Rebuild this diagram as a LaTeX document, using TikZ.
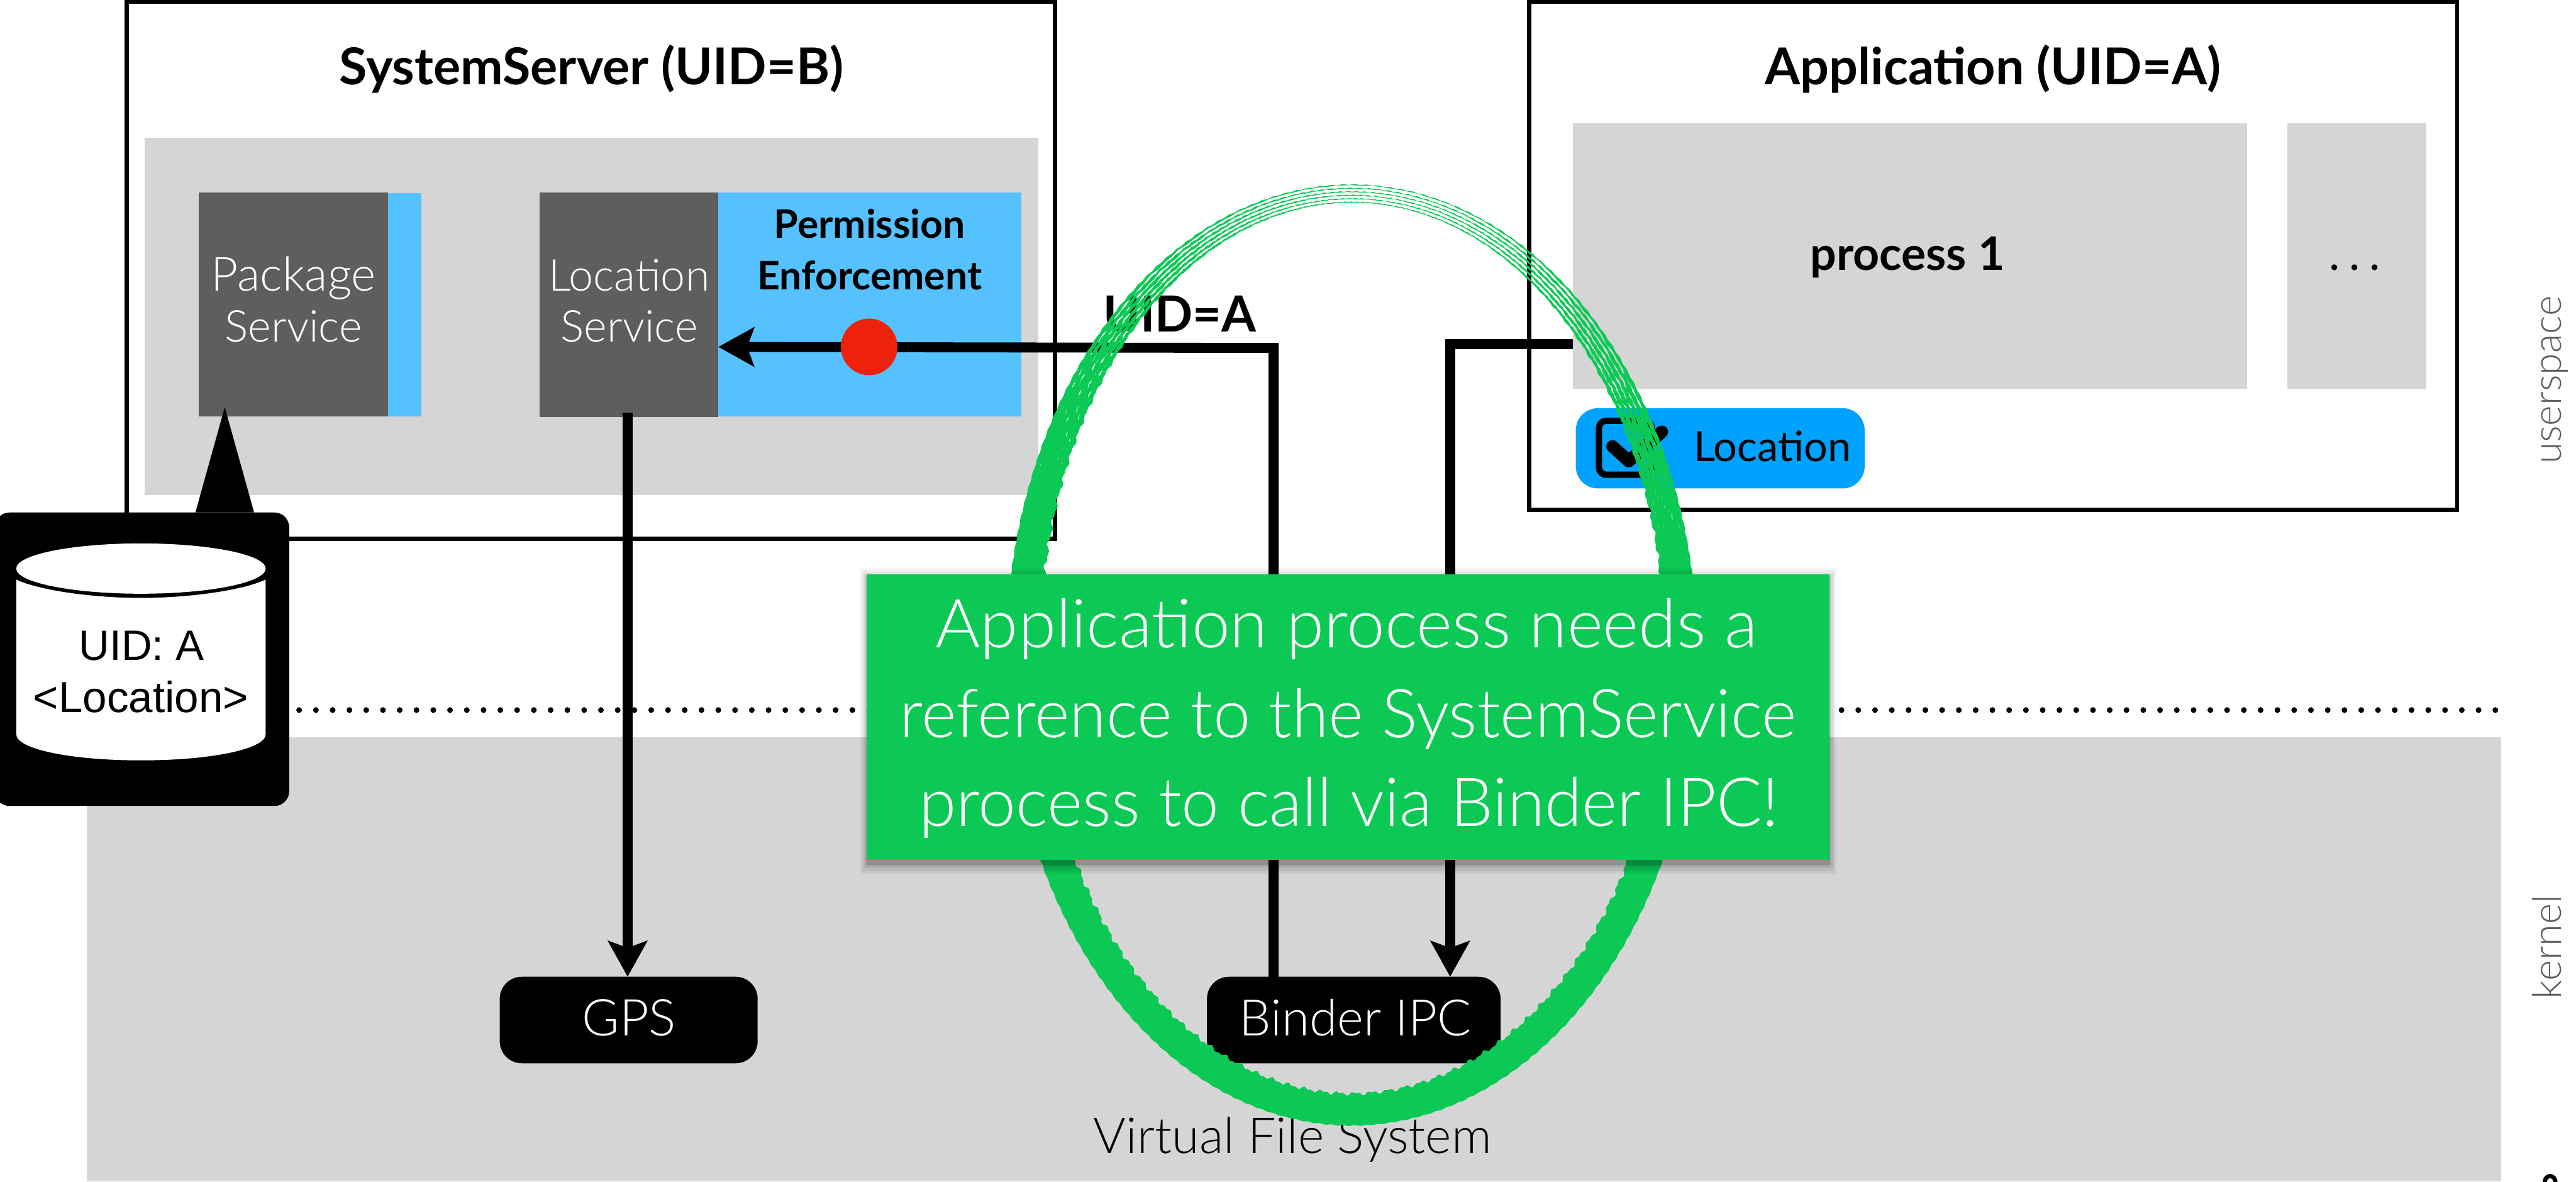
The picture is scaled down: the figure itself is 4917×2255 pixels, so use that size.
\documentclass[tikz,border=0pt]{standalone}
\usepackage{fontspec}
\usetikzlibrary{arrows.meta}
\setmainfont{Lato}
\newfontfamily\lightf{Lato Light}
\newfontfamily\regf{Lato}
\newfontfamily\boldf{Lato}[UprightFont=*-Bold,BoldFont=*-Bold]
\newfontfamily\helv{Liberation Sans}
\definecolor{graybg}{HTML}{D5D5D5}
\definecolor{darkg}{HTML}{5E5E5E}
\definecolor{skyb}{HTML}{56C1FF}
\definecolor{chipb}{HTML}{00A2FF}
\definecolor{calloutg}{HTML}{0CC955}
\definecolor{redd}{HTML}{EE220C}
% font size in reference pixels
\newcommand{\pxf}[1]{\fontsize{\the\dimexpr #1pt*2845/10000\relax}{\the\dimexpr #1pt*3415/10000\relax}\selectfont}
\tikzset{
  plainrect/.style={inner sep=0pt,outer sep=0pt},
  outerbox/.style={draw=black,line width=0.08cm,fill=white},
  flow/.style={draw=black,line width=0.19cm,line join=miter},
  flowtip/.style={-{Stealth[length=0.68cm,width=0.74cm,inset=0.13cm]}},
  lab/.style={inner sep=0pt,outer sep=0pt,anchor=base},
  pill/.style={fill=black,rounded corners=0.42cm,inner sep=0pt,outer sep=0pt},
  declare function={
    hf(\t,\n)=sin(10*mod(mod((\t)/10,36)*(\n),36));
    wid(\t,\p,\f)=(1.0+9*min(1,1.1*(1-cos(\t-85))))*(1.6+0.25*hf(\t+\p,\f)+0.2*hf(\t+2*\p,2*\f+7));
    ax(\t,\k)=660-\k*48;
    by(\t,\k)=898-\k*(39-6*sin(\t));
    jit(\t,\p,\f)=0.8*hf(\t+\p,3*\f);
  },
}
\begin{document}
\begin{tikzpicture}[x=0.01cm,y=-0.01cm]
\useasboundingbox (0,0) rectangle (4917,2255);
% kernel band
\fill[graybg] (166,1407) rectangle (4774,2255);
% dotted line
\foreach \i in {0,...,131}{\fill[black] ({571+32*\i},1355) circle (5.5);}
% outer boxes
\draw[outerbox] (242,3) rectangle (2014,1028);
\draw[outerbox] (2919,3) rectangle (4690,973);
\node[lab] (sstitle) at (1129,161) {\boldf\pxf{97}SystemServer (UID=B)};
\node[lab] (apptitle) at (3804,161) {\boldf\pxf{97}Application (UID=A)};
\fill[graybg] (276,263) rectangle (1982,945);
% Package
\fill[skyb] (741,368) rectangle (804,795);
\node[plainrect,fill=darkg,minimum width=3.62cm,minimum height=4.27cm] (pkg) at (560,581.5) {};
\node[lab,white] (pkgl) at (560,555) {\lightf\pxf{90}Package};
\node[lab,white] (pkgs) at (560,653) {\lightf\pxf{84}Service};
% Location
\node[plainrect,fill=skyb,minimum width=5.78cm,minimum height=4.27cm] (perm) at (1660,581.5) {};
\node[plainrect,fill=darkg,minimum width=3.41cm,minimum height=4.28cm] (loc) at (1200.5,582) {};
\node[lab,white] (locl) at (1201,555) {\lightf\pxf{84}Location};
\node[lab,white] (locs) at (1201,653) {\lightf\pxf{84}Service};
\node[lab] (perm1) at (1660,454) {\boldf\pxf{75}Permission};
\node[lab] (perm2) at (1660,553) {\boldf\pxf{75}Enforcement};
% Application interior
\node[plainrect,fill=graybg,minimum width=12.86cm,minimum height=5.07cm] (proc) at (3646,488.5) {};
\fill[graybg] (4366,235) rectangle (4631,742);
\node[lab] (procl) at (3641,516) {\boldf\pxf{88}process 1};
\node[lab] (dots) at (4495,516) {\regf\pxf{88}.\kern 0.2em.\kern 0.2em.};
\node[plainrect,fill=chipb,rounded corners=0.42cm,minimum width=5.51cm,minimum height=1.53cm] (chip) at (3283.5,855.5) {};
\draw[black,line width=0.12cm,rounded corners=0.14cm] (3052,803) rectangle (3153,906);
\draw[black,line width=0.24cm,line join=round,line cap=round] (3078,852) -- (3109,880) -- (3172,824);
\node[lab] (chipl) at (3383,881) {\regf\pxf{80}Location};
% gps + binder
\node[pill,minimum width=4.92cm,minimum height=1.65cm] (gps) at (1200,1946.5) {};
\node[lab,white] (gpsl) at (1201,1977) {\lightf\pxf{97}GPS};
\node[pill,minimum width=5.6cm,minimum height=1.65cm] (binder) at (2584,1946.5) {};
\node[lab,white] (binderl) at (2587,1977) {\lightf\pxf{96}Binder IPC};
\node[lab] (vfs) at (2467,2201) {\lightf\pxf{95}Virtual File System};
% connectors
\coordinate (procw) at (proc.west |- 0,657);
\coordinate (c1) at (2768,657);
\draw[flow,flowtip] (procw) -- (c1) -- (c1 |- binder.north);
\coordinate (bindertap) at (2431,1864);
\coordinate (c2) at (2431,664);
\coordinate (locin) at (loc.east |- 0,662);
\draw[flow,flowtip] (bindertap) -- (c2) -- (locin);
\coordinate (gpsout) at (1198,787);
\draw[flow,flowtip] (gpsout) -- (gpsout |- gps.north);
\node[circle,fill=redd,minimum size=1.08cm,inner sep=0pt] (red) at (1659,662) {};
\node[lab] (uida) at (2252,633) {\boldf\pxf{95}UID=A};
% database tag
\fill[black] (373,978) -- (429,777) -- (485,978) -- cycle;
\fill[black,rounded corners=0.28cm] (-10,978) rectangle (552,1538);
\fill[white] (31,1106) .. controls (70,1125) and (170,1141) .. (269,1141) .. controls (368,1141) and (468,1125) .. (507,1106) -- (507,1401) .. controls (507,1430) and (400,1451) .. (269,1451) .. controls (138,1451) and (31,1430) .. (31,1401) -- cycle;
\fill[white] (269,1085) ellipse (238 and 48);
\node[lab] (dbuid) at (270,1260) {\helv\pxf{81}UID: A};
\node[lab] (dbloc) at (269,1359) {\helv\pxf{83}<Location>};
% sketchy ellipse
\foreach \k/\ph/\fr in {0/0/62,0.2/35/74,0.4/80/86,0.6/120/94,0.8/160/106,1/200/118}{
  \fill[calloutg,even odd rule] plot[domain=0:360,samples=901,variable=\t]
    ({2580+(ax(\t,\k)+jit(\t,\ph,\fr))*cos(\t)},{1250-(by(\t,\k)+jit(\t,\ph,\fr))*sin(\t)})
    -- plot[domain=360:0,samples=901,variable=\t]
    ({2580+(ax(\t,\k)-wid(\t,\ph,\fr))*cos(\t)},{1250-(by(\t,\k)-wid(\t,\ph,\fr))*sin(\t)})
    -- cycle;
}
% side labels
\node[lab,rotate=90,text=darkg] (us) at (4889,725) {\lightf\pxf{75}userspace};
\node[lab,rotate=90,text=darkg] (ke) at (4889,1807) {\lightf\pxf{76}kernel};
% cut-off glyph at the lower right edge
\draw[black,line width=0.08cm] (4857,2257) .. controls (4858,2240) and (4877,2240) .. (4878,2257);
% callout
\foreach \s/\o in {20/0.03,16/0.04,12/0.05,8/0.06,4/0.08,2/0.1}{
  \fill[black,opacity=\o] ({1655-0.7*\s},{1096-\s+8}) rectangle ({3492+0.7*\s},{1641+\s+8});
}
\node[plainrect,fill=calloutg,minimum width=18.37cm,minimum height=5.45cm] (callout) at (2573.5,1368.5) {};
\node[lab,white,xscale=1.015] (c1l) at (2570,1236) {\lightf\pxf{129}Application process needs a};
\node[lab,white,xscale=0.99] (c2l) at (2573,1407) {\lightf\pxf{129}reference to the SystemService};
\node[lab,white] (c3l) at (2575,1577) {\lightf\pxf{129}process to call via Binder IPC!};
\end{tikzpicture}
\end{document}
